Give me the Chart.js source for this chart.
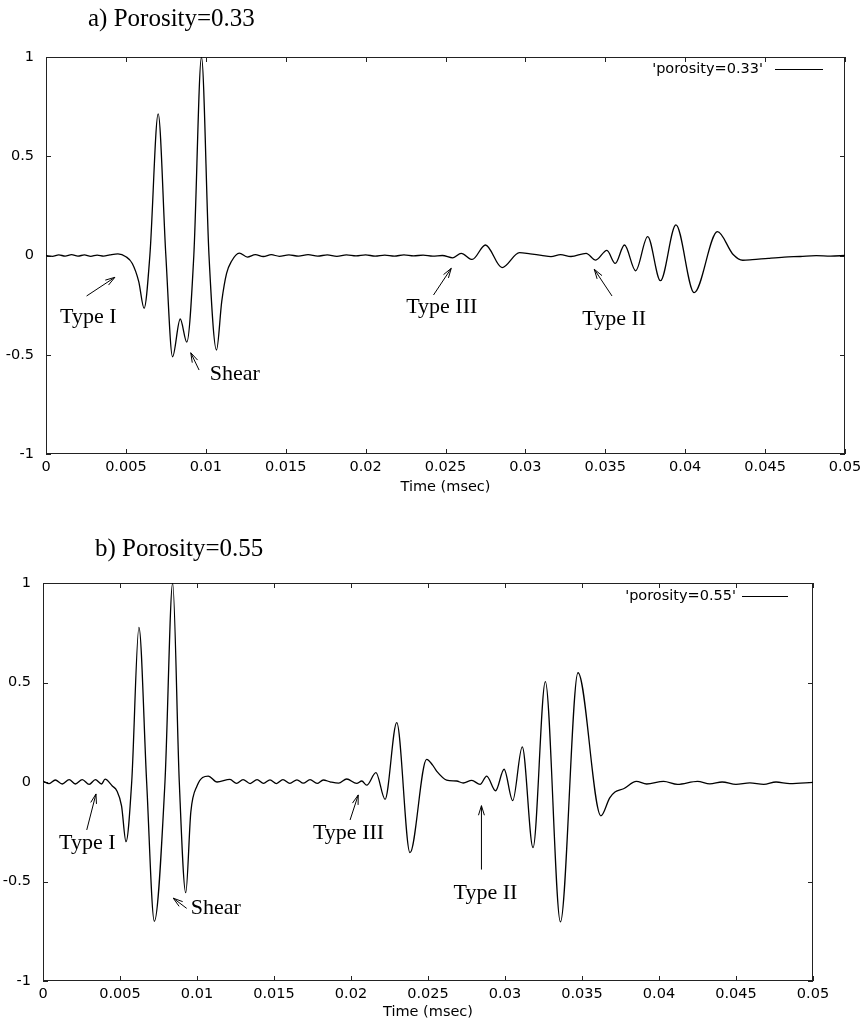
<!DOCTYPE html>
<html>
<head>
<meta charset="utf-8">
<script src="https://cdn.jsdelivr.net/npm/chart.js@4.4.1/dist/chart.umd.min.js"></script>
<style>
  body { margin: 0; background: #fff; }
  .panel { position: absolute; left: 0; }
</style>
</head>
<body>
<canvas id="chartA" class="panel" width="867" height="510" style="top:0"></canvas>
<canvas id="chartB" class="panel" width="867" height="511" style="top:510px"></canvas>
<script>
// waveform (time in msec, normalised amplitude)
const time033 = [0, 0.0004, 0.0008, 0.0012, 0.0016, 0.0020, 0.0024, 0.0028, 0.0032, 0.0036, 0.0040, 0.0045,
  0.0050, 0.0054, 0.0058, 0.00614, 0.0065, 0.00702, 0.0075, 0.00792, 0.0084, 0.00881, 0.00925, 0.00973,
  0.0102, 0.01067, 0.0110, 0.0113, 0.0116, 0.0121, 0.0126, 0.0131, 0.0136, 0.0141, 0.0146, 0.0152, 0.0158,
  0.0164, 0.0170, 0.0176, 0.0182, 0.0188, 0.0194, 0.0200, 0.0206, 0.0212, 0.0218, 0.0224, 0.0230, 0.0236,
  0.0242, 0.0248, 0.02546, 0.02598, 0.02667, 0.0275, 0.02854, 0.02963, 0.0303, 0.0310, 0.0316, 0.0322,
  0.03285, 0.0338, 0.0344, 0.0351, 0.03562, 0.0362, 0.0369, 0.03765, 0.03845, 0.03942, 0.04056, 0.04202,
  0.04300, 0.04360, 0.0442, 0.0452, 0.0462, 0.0472, 0.0482, 0.0491, 0.0500];
const amp033 = [0, -0.004, 0.003, -0.003, 0.004, -0.003, 0.003, -0.004, 0.002, -0.003, 0.003, 0.008,
  -0.006, -0.04, -0.13, -0.266, 0.0, 0.713, 0.0, -0.51, -0.32, -0.436, 0.0, 1.0,
  0.0, -0.476, -0.23, -0.09, -0.03, 0.012, -0.008, 0.004, -0.005, 0.004, -0.004, 0.003, -0.003,
  0.004, -0.003, 0.003, -0.004, 0.003, -0.002, 0.003, -0.003, 0.002, -0.003, 0.003, -0.002, 0.002,
  -0.003, 0.0, -0.012, 0.011, -0.02, 0.053, -0.061, 0.014, 0.008, 0.001, -0.006, 0.004,
  -0.005, 0.011, -0.023, 0.026, -0.04, 0.053, -0.077, 0.095, -0.127, 0.154, -0.187, 0.12,
  0.005, -0.024, -0.021, -0.014, -0.008, -0.005, -0.001, -0.003, 0.0];

const time055 = [0, 0.0004, 0.0008, 0.00125, 0.0017, 0.0021, 0.00255, 0.0030, 0.0034, 0.0038, 0.00403,
  0.0045, 0.0048, 0.0051, 0.00539, 0.00576, 0.00623, 0.00673, 0.00723, 0.00792, 0.00842, 0.00885, 0.00927,
  0.0096, 0.0100, 0.01073, 0.0113, 0.01214, 0.01257, 0.01299, 0.01345, 0.0139, 0.01432, 0.01474, 0.01516,
  0.01558, 0.01603, 0.01649, 0.0169, 0.01734, 0.0178, 0.0182, 0.01864, 0.0192, 0.01972, 0.02037, 0.0207,
  0.02102, 0.02162, 0.02221, 0.02297, 0.02383, 0.02491, 0.0253, 0.02556, 0.02621, 0.02686, 0.02729, 0.02784,
  0.02838, 0.02881, 0.02939, 0.02994, 0.0305, 0.03112, 0.03182, 0.03262, 0.0336, 0.03474, 0.03623, 0.0368,
  0.03714, 0.0377, 0.03853, 0.0392, 0.0403, 0.0412, 0.0425, 0.0433, 0.0441, 0.0450, 0.0459, 0.0468, 0.0476,
  0.0485, 0.0500];
const amp055 = [0.005, -0.008, 0.010, -0.010, 0.012, -0.010, 0.012, -0.012, 0.012, -0.010, 0.014,
  -0.02, -0.045, -0.12, -0.30, 0.0, 0.777, 0.0, -0.70, 0.0, 1.0, 0.0, -0.556,
  -0.15, -0.02, 0.03, 0.0, 0.013, -0.007, 0.012, -0.008, 0.012, -0.007, 0.011, -0.008,
  0.012, -0.007, 0.011, -0.006, 0.012, -0.007, 0.010, 0.001, -0.006, 0.015, -0.007, 0.005,
  -0.016, 0.047, -0.087, 0.298, -0.355, 0.114, 0.085, 0.055, 0.01, 0.005, -0.005, 0.008,
  -0.012, 0.03, -0.044, 0.064, -0.094, 0.177, -0.33, 0.504, -0.703, 0.549, -0.17, -0.08,
  -0.05, -0.034, 0.003, -0.01, 0.003, -0.012, 0.003, -0.009, 0.0, -0.012, -0.004, -0.012, 0.0,
  -0.008, -0.002];

const timeMin = 0, timeMax = 0.05, timeStep = 0.005;
const ampMin = -1, ampMax = 1, ampStep = 0.5;

const serif = '"Liberation Serif", "Times New Roman", serif';
const sans = '"DejaVu Sans", sans-serif';

// frame with inward ticks, title, legend, axis title and the arrow notes
const paperLook = {
  id: 'paperLook',
  beforeDatasetsDraw(chart) {
    const {ctx, chartArea: a, scales: {x, y}} = chart;
    ctx.save();
    ctx.strokeStyle = '#222';
    ctx.lineWidth = 1;
    ctx.strokeRect(a.left + 0.5, a.top + 0.5, a.right - a.left - 1, a.bottom - a.top - 1);
    ctx.beginPath();
    x.ticks.forEach(t => {
      const px = Math.round(x.getPixelForValue(t.value)) + 0.5;
      ctx.moveTo(px, a.bottom); ctx.lineTo(px, a.bottom - 5);
      ctx.moveTo(px, a.top); ctx.lineTo(px, a.top + 5);
    });
    y.ticks.forEach(t => {
      const py = Math.round(y.getPixelForValue(t.value)) + 0.5;
      ctx.moveTo(a.left, py); ctx.lineTo(a.left + 5, py);
      ctx.moveTo(a.right, py); ctx.lineTo(a.right - 5, py);
    });
    ctx.stroke();
    ctx.restore();
  },
  afterDraw(chart, args, opts) {
    const {ctx, chartArea: a, scales: {x, y}} = chart;
    ctx.save();
    ctx.fillStyle = '#000';
    ctx.strokeStyle = '#000';

    ctx.font = '25px ' + serif;
    ctx.textBaseline = 'alphabetic';
    ctx.textAlign = 'left';
    ctx.fillText(opts.title, opts.titleX, opts.titleY);

    // legend
    ctx.font = '14.5px ' + sans;
    ctx.textBaseline = 'middle';
    ctx.textAlign = 'right';
    ctx.fillText(chart.data.datasets[0].label, opts.legendTextEnd, opts.legendY);
    ctx.lineWidth = 1;
    ctx.beginPath();
    ctx.moveTo(opts.legendLine[0], opts.legendY + 0.5);
    ctx.lineTo(opts.legendLine[1], opts.legendY + 0.5);
    ctx.stroke();

    ctx.textAlign = 'center';
    ctx.fillText('Time (msec)', (a.left + a.right) / 2, opts.axisTitleY);

    // notes with arrows
    ctx.font = '22px ' + serif;
    ctx.textAlign = 'left';
    ctx.textBaseline = 'alphabetic';
    opts.notes.forEach(n => {
      ctx.fillText(n.text, x.getPixelForValue(n.at[0]), y.getPixelForValue(n.at[1]));
      const x0 = x.getPixelForValue(n.from[0]), y0 = y.getPixelForValue(n.from[1]);
      const x1 = x.getPixelForValue(n.to[0]), y1 = y.getPixelForValue(n.to[1]);
      const ang = Math.atan2(y1 - y0, x1 - x0);
      ctx.beginPath();
      ctx.moveTo(x0, y0); ctx.lineTo(x1, y1);
      [-0.3, 0.3].forEach(d => {
        ctx.moveTo(x1, y1);
        ctx.lineTo(x1 - 10 * Math.cos(ang + d), y1 - 10 * Math.sin(ang + d));
      });
      ctx.stroke();
    });
    ctx.restore();
  }
};

function makeChart(id, times, amps, label, box, look) {
  const canvas = document.getElementById(id);
  return new Chart(canvas, {
    type: 'line',
    data: {
      datasets: [{
        label: label,
        data: times.map((t, i) => ({x: t, y: amps[i]})),
        borderColor: '#000',
        borderWidth: 1.3,
        pointRadius: 0,
        cubicInterpolationMode: 'monotone',
        fill: false
      }]
    },
    options: {
      responsive: false,
      animation: false,
      events: [],
      layout: {
        padding: {left: 0, top: box.top, right: canvas.width - box.right, bottom: 0}
      },
      scales: {
        x: {
          type: 'linear',
          min: timeMin,
          max: timeMax,
          afterFit: s => { s.height = canvas.height - box.bottom; },
          grid: {display: false, drawTicks: false},
          border: {display: false},
          ticks: {
            stepSize: timeStep,
            padding: 5,
            color: '#000',
            font: {family: sans, size: 14.5},
            maxRotation: 0,
            callback: v => String(+v.toFixed(3))
          }
        },
        y: {
          min: ampMin,
          max: ampMax,
          afterFit: s => { s.width = box.left; },
          grid: {display: false, drawTicks: false},
          border: {display: false},
          ticks: {
            stepSize: ampStep,
            padding: 12,
            color: '#000',
            font: {family: sans, size: 14.5},
            callback: v => String(v)
          }
        }
      },
      plugins: {
        legend: {display: false},
        tooltip: {enabled: false},
        paperLook: look
      }
    },
    plugins: [paperLook]
  });
}

makeChart('chartA', time033, amp033, "'porosity=0.33'",
  {left: 46, right: 845, top: 57, bottom: 454},
  {
    title: 'a) Porosity=0.33', titleX: 88, titleY: 26,
    legendTextEnd: 763, legendY: 69, legendLine: [775, 823], axisTitleY: 487,
    notes: [
      {text: 'Type I', at: [0.000875, -0.34], from: [0.00254, -0.204], to: [0.00431, -0.11]},
      {text: 'Shear', at: [0.01025, -0.627], from: [0.00958, -0.577], to: [0.00906, -0.49]},
      {text: 'Type III', at: [0.02254, -0.291], from: [0.02425, -0.199], to: [0.02536, -0.0645]},
      {text: 'Type II', at: [0.03356, -0.35], from: [0.03542, -0.204], to: [0.03431, -0.0695]}
    ]
  });

makeChart('chartB', time055, amp055, "'porosity=0.55'",
  {left: 43, right: 813, top: 73, bottom: 471},
  {
    title: 'b) Porosity=0.55', titleX: 95, titleY: 46,
    legendTextEnd: 736, legendY: 86, legendLine: [742, 788], axisTitleY: 502,
    notes: [
      {text: 'Type I', at: [0.00104, -0.338], from: [0.00284, -0.241], to: [0.00344, -0.06]},
      {text: 'Shear', at: [0.00959, -0.665], from: [0.00933, -0.635], to: [0.00846, -0.584]},
      {text: 'Type III', at: [0.01753, -0.288], from: [0.01994, -0.191], to: [0.02047, -0.065]},
      {text: 'Type II', at: [0.02666, -0.588], from: [0.02847, -0.44], to: [0.02847, -0.119]}
    ]
  });
</script>
</body>
</html>
